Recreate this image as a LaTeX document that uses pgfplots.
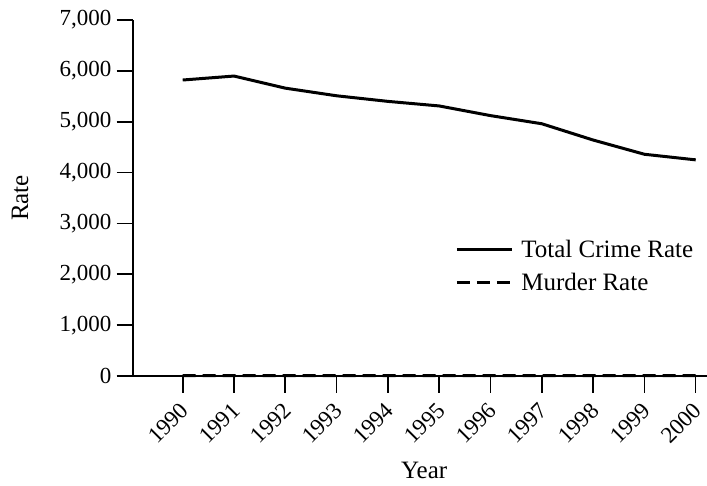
\documentclass[border=0pt]{standalone}
\usepackage{fontspec}
\setmainfont{Liberation Serif}
\usepackage{pgfplots}
\pgfplotsset{compat=1.18}
\newcommand{\fsz}{\fontsize{25}{30}\selectfont}
\newcommand{\tsz}{\fontsize{23}{28}\selectfont}
\begin{document}
\begin{tikzpicture}
\begin{axis}[
  at={(133.3pt,109pt)}, anchor=south west,
  scale only axis, width=573.7pt, height=356pt,
  xmin=1989.037, xmax=2000.22, ymin=0, ymax=7000,
  axis lines=left, axis line style={-, line width=1.6pt, black},
  tick align=outside, major tick length=16.7pt,
  tick style={line width=1.6pt, black},
  xtick={1990,...,2000},
  ytick={0,1000,...,7000},
  minor tick num=0,
  /pgf/number format/assume math mode=true,
  x tick label style={/pgf/number format/1000 sep={}, yshift=-14pt, xshift=2pt, rotate=45, anchor=east, font=\tsz, inner sep=0pt},
  y tick label style={/pgf/number format/1000 sep={,}, font=\tsz, inner sep=0pt, xshift=-5pt},
  scaled y ticks=false,
  xlabel={Year}, ylabel={Rate},
  label style={font=\fsz},
  xlabel style={at={(axis description cs:0.507,-0.264)}, anchor=center},
  ylabel style={at={(axis description cs:-0.1975,0.5)}, anchor=center},
  legend style={draw=none, fill=none, font=\fsz, at={(axis description cs:0.561,0.308)}, anchor=west, inner sep=0pt, nodes={inner sep=0pt}, column sep=8pt, row sep=14pt},
  legend cell align=left,
  legend image code/.code={\draw[#1] (0pt,0pt) -- (55pt,0pt);},
  clip=false,
]
\addplot[black, line width=3pt] coordinates {
 (1990,5820) (1991,5898) (1992,5660) (1993,5510) (1994,5400) (1995,5310)
 (1996,5120) (1997,4960) (1998,4640) (1999,4360) (2000,4250)};
\addlegendentry{Total Crime Rate}
\addplot[black, line width=3pt, dash pattern=on 13pt off 7pt] coordinates {
 (1990,9.4) (1991,9.8) (1992,9.3) (1993,9.5) (1994,9.0) (1995,8.2)
 (1996,7.4) (1997,6.8) (1998,6.3) (1999,5.7) (2000,5.5)};
\addlegendentry{Murder Rate}
\end{axis}
\pgfresetboundingbox
\path[use as bounding box] (0,0) rectangle (707pt,485pt);
\end{tikzpicture}
\end{document}
